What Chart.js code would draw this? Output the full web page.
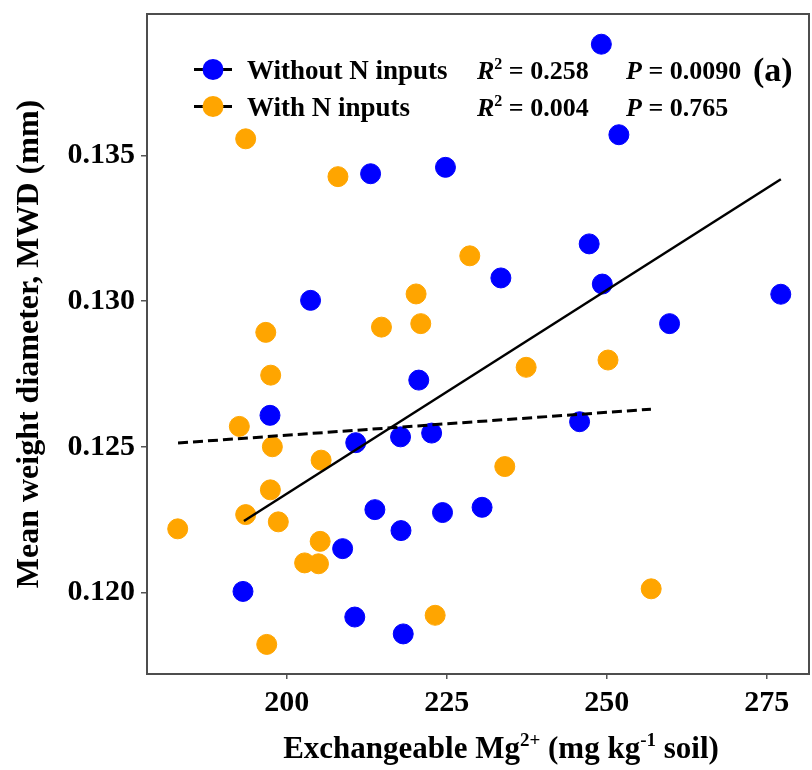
<!DOCTYPE html>
<html>
<head>
<meta charset="utf-8">
<script src="https://cdn.jsdelivr.net/npm/chart.js@4"></script>
<style>
  html, body { margin: 0; padding: 0; background: #fff; overflow: hidden; }
  #wrap { width: 820px; height: 770px; }
</style>
</head>
<body>
<div id="wrap"><canvas id="mwdChart" width="820" height="770"></canvas></div>
<script>
// axis ticks
const xTicks = [200, 225, 250, 275];
const yTicks = [0.120, 0.125, 0.130, 0.135];

// without N inputs (blue)
const blueX = [249.15, 251.89, 224.79, 213.09, 247.25, 233.45, 249.30, 277.19, 203.71, 259.81, 220.62, 197.37,
               245.75, 222.63, 217.77, 210.77, 230.51, 213.76, 224.33, 217.84, 208.72, 193.15, 210.62, 218.19];
const blueY = [0.13883, 0.13572, 0.13460, 0.13438, 0.13197, 0.13080, 0.13059, 0.13024, 0.13003, 0.12923, 0.12729, 0.12608,
               0.12586, 0.12547, 0.12534, 0.12514, 0.12292, 0.12284, 0.12274, 0.12212, 0.12150, 0.12003, 0.11915, 0.11857];

// with N inputs (orange)
const orangeX = [193.57, 207.99, 228.59, 220.20, 220.93, 214.79, 196.71, 250.19, 237.40, 197.48, 192.58, 197.74,
                 205.36, 234.06, 197.43, 193.57, 198.67, 182.95, 205.21, 202.78, 204.95, 256.94, 223.18, 196.86];
const orangeY = [0.13558, 0.13428, 0.13156, 0.13025, 0.12923, 0.12911, 0.12893, 0.12798, 0.12773, 0.12746, 0.12570, 0.12500,
                 0.12454, 0.12432, 0.12352, 0.12267, 0.12242, 0.12218, 0.12175, 0.12101, 0.12098, 0.12012, 0.11921, 0.11821];

// fitted lines (end points)
const blueFitX = [193.3, 277.2];
const blueFitY = [0.12245, 0.13419];
const orangeFitX = [183.0, 256.9];
const orangeFitY = [0.12513, 0.12629];

const seriesNames = ["Without N inputs", "With N inputs"];
const seriesColors = ["#0000ff", "#ffa500"];
const r2Values = ["0.258", "0.004"];
const pValues = ["0.0090", "0.765"];
const panelLabel = "(a)";

const pts = (xs, ys) => xs.map((x, i) => ({ x: x, y: ys[i] }));
const SERIF = "'Liberation Serif', 'Times New Roman', serif";

const frameAndText = {
  id: "frameAndText",
  afterDraw(chart) {
    const ctx = chart.ctx;
    const a = chart.chartArea;
    ctx.save();
    // frame
    ctx.strokeStyle = "#4d4d4d";
    ctx.lineWidth = 2;
    ctx.strokeRect(a.left, a.top, a.right - a.left, a.bottom - a.top);

    // legend
    const rows = [69.5, 106.5];
    ctx.textBaseline = "alphabetic";
    rows.forEach((cy, i) => {
      ctx.strokeStyle = "#000";
      ctx.lineWidth = 3;
      ctx.beginPath();
      ctx.moveTo(194, cy);
      ctx.lineTo(232, cy);
      ctx.stroke();
      ctx.fillStyle = seriesColors[i];
      ctx.beginPath();
      ctx.arc(213, cy, 10.5, 0, Math.PI * 2);
      ctx.fill();
      ctx.fillStyle = "#000";
      ctx.font = "bold 27px " + SERIF;
      ctx.fillText(seriesNames[i], 247, cy + 9);

      // R2
      let x = 477;
      ctx.font = "italic bold 26px " + SERIF;
      ctx.fillText("R", x, cy + 9);
      x += ctx.measureText("R").width;
      ctx.font = "bold 16px " + SERIF;
      ctx.fillText("2", x, cy - 1);
      x += ctx.measureText("2").width;
      ctx.font = "bold 26px " + SERIF;
      ctx.fillText(" = " + r2Values[i], x, cy + 9);

      // P
      x = 626;
      ctx.font = "italic bold 26px " + SERIF;
      ctx.fillText("P", x, cy + 9);
      x += ctx.measureText("P").width;
      ctx.font = "bold 26px " + SERIF;
      ctx.fillText(" = " + pValues[i], x, cy + 9);
    });
    ctx.font = "bold 34px " + SERIF;
    ctx.fillText(panelLabel, 753, 81);

    // y title
    ctx.save();
    ctx.translate(30, (a.top + a.bottom) / 2);
    ctx.rotate(-Math.PI / 2);
    ctx.font = "bold 32px " + SERIF;
    ctx.textAlign = "center";
    ctx.textBaseline = "middle";
    ctx.fillText("Mean weight diameter, MWD (mm)", 0, 0);
    ctx.restore();

    // x title with superscripts
    const parts = [
      ["Exchangeable Mg", false], ["2+", true], [" (mg kg", false], ["-1", true], [" soil)", false]
    ];
    const big = "bold 31px " + SERIF, small = "bold 19px " + SERIF;
    let total = 0;
    parts.forEach(p => { ctx.font = p[1] ? small : big; total += ctx.measureText(p[0]).width; });
    let tx = 501 - total / 2;
    const base = 758;
    ctx.textAlign = "left";
    parts.forEach(p => {
      ctx.font = p[1] ? small : big;
      ctx.fillText(p[0], tx, p[1] ? base - 12 : base);
      tx += ctx.measureText(p[0]).width;
    });
    ctx.restore();
  }
};

new Chart(document.getElementById("mwdChart"), {
  type: "scatter",
  data: {
    datasets: [
      {
        type: "line",
        data: pts(blueFitX, blueFitY),
        borderColor: "#000",
        borderWidth: 2.5,
        pointRadius: 0,
        fill: false
      },
      {
        type: "line",
        data: pts(orangeFitX, orangeFitY),
        borderColor: "#000",
        borderWidth: 3,
        borderDash: [10, 5],
        pointRadius: 0,
        fill: false
      },
      {
        label: seriesNames[0],
        data: pts(blueX, blueY),
        backgroundColor: seriesColors[0],
        borderColor: seriesColors[0],
        borderWidth: 1,
        pointRadius: 10
      },
      {
        label: seriesNames[1],
        data: pts(orangeX, orangeY),
        backgroundColor: seriesColors[1],
        borderColor: seriesColors[1],
        borderWidth: 1,
        pointRadius: 10
      }
    ]
  },
  options: {
    responsive: false,
    animation: false,
    layout: { padding: { left: 0, top: 14, right: 4, bottom: 0 } },
    plugins: {
      legend: { display: false },
      tooltip: { enabled: false }
    },
    scales: {
      x: {
        type: "linear",
        min: 178.15,
        max: 281.6,
        afterFit: s => { s.height = 96; s.paddingLeft = 0; s.paddingRight = 0; },
        afterBuildTicks: s => { s.ticks = xTicks.map(v => ({ value: v })); },
        grid: { drawOnChartArea: false, drawTicks: true, tickLength: 5, color: "#555", lineWidth: 1.5 },
        border: { display: false },
        ticks: {
          color: "#000",
          padding: 6,
          font: { family: SERIF, size: 30, weight: "bold" }
        }
      },
      y: {
        type: "linear",
        min: 0.117193,
        max: 0.139868,
        afterFit: s => { s.width = 147; s.paddingTop = 0; s.paddingBottom = 0; },
        afterBuildTicks: s => { s.ticks = yTicks.map(v => ({ value: v })); },
        grid: { drawOnChartArea: false, drawTicks: true, tickLength: 6, color: "#555", lineWidth: 1.5 },
        border: { display: false },
        ticks: {
          color: "#000",
          padding: 6,
          font: { family: SERIF, size: 30, weight: "bold" },
          callback: v => v.toFixed(3)
        }
      }
    }
  },
  plugins: [frameAndText]
});
</script>
</body>
</html>
